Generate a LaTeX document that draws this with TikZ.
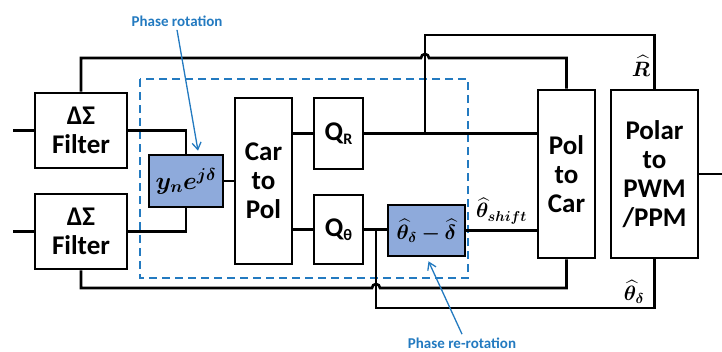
\documentclass[tikz,border=0pt]{standalone}
\usepackage{amsmath, amssymb, bm}
\usepackage{fontspec}
\setmainfont{Carlito}
\usepackage{tikz}
\usetikzlibrary{calc,arrows.meta}
\definecolor{boxblue}{RGB}{142,170,219}
\definecolor{lineblue}{RGB}{35,122,192}

\begin{document}
\begin{tikzpicture}[x=1pt,y=-1pt,
    blk/.style={draw,line width=2.6pt,inner sep=0pt,align=center,
      font=\bfseries\fontsize{27}{29}\selectfont},
    hl/.style={blk,fill=boxblue,font=\fontsize{23}{25}\selectfont},
    wire/.style={line width=2.6pt},
    note/.style={text=lineblue,font=\bfseries\fontsize{15}{16}\selectfont},
    notearrow/.style={draw=lineblue,line width=1.3pt,-{Straight Barb[length=7pt,width=9pt]}}]
      \useasboundingbox (0,0) rectangle (722,351);

      % blocks
      \node[blk,minimum width=92pt,minimum height=75pt] (fltA) at (81,130.5) {ΔΣ\\Filter};
      \node[blk,minimum width=92pt,minimum height=75pt] (fltB) at (81,231.5) {ΔΣ\\Filter};
      \node[hl,minimum width=74pt,minimum height=52pt] (rot) at (186,181) {$\bm{y_{\scriptstyle n} e^{j\delta}}$};
      \node[blk,minimum width=57pt,minimum height=166pt] (c2p) at (263.5,181) {Car\\to\\Pol};
      \node[blk,minimum width=49pt,minimum height=71pt] (qr) at (338.5,133.5) {Q\raisebox{-4pt}{\fontsize{16}{16}\selectfont R}};
      \node[blk,minimum width=49pt,minimum height=69pt] (qt) at (338.5,229.5) {Q\raisebox{-4pt}{\fontsize{16}{16}\selectfont θ}};
      \node[hl,minimum width=77pt,minimum height=51pt,font=\fontsize{20}{22}\selectfont] (rerot) at (426.5,230.5) {$\bm{\widehat{\theta}_{\delta}-\widehat{\delta}}$};
      \node[blk,minimum width=57pt,minimum height=168pt] (p2c) at (566.5,174) {Pol\\to\\Car};
      \node[blk,minimum width=87pt,minimum height=168pt] (pwm) at (654.5,174) {Polar\\to\\PWM\\/PPM};

      % dashed frame
      \draw[lineblue,line width=1.6pt,dash pattern=on 8pt off 5pt] (140,79) rectangle (468,278);

      % free ends and taps
      \coordinate (inA) at (13,130.5);
      \coordinate (inB) at (13,231.5);
      \coordinate (out) at (722,174);
      \coordinate (tapR) at (425,133.5);
      \coordinate (tapT) at (376,229.5);

      \draw[wire] (inA) -- (fltA.west);
      \draw[wire] (inB) -- (fltB.west);
      \draw[wire] (pwm.east) -- (out);
      \draw[wire] (fltA.east) -| (rot.north);
      \draw[wire] (fltB.east) -| (rot.south);
      \draw[wire] (rot.east) -- (c2p.west |- rot.east);
      \draw[wire] (c2p.east |- qr.west) -- (qr.west);
      \draw[wire] (c2p.east |- qt.west) -- (qt.west);
      \draw[wire] (qr.east) -- (p2c.west |- qr.east);
      \draw[wire] (qt.east) -- (rerot.west |- qt.east);
      \draw[wire] (rerot.east) -- (p2c.west |- rerot.east)
        node[midway,above=2pt,font=\fontsize{20}{20}\selectfont] (lblS) {$\bm{\widehat{\theta}_{\scriptstyle shift}}$};

      % feedback of R and theta
      \draw[wire] (tapR) -- (425,35) -| (pwm.north);
      \draw[wire] (tapT) -- (376,308) -| (pwm.south);
      \draw[wire] (fltA.north) |- (421,58) arc (180:0:4pt) -| (p2c.north);
      \draw[wire] (fltB.south) |- (372,288) arc (180:0:4pt) -| (p2c.south);

      \node[font=\fontsize{21}{21}\selectfont] (lblR) at (641,66) {$\bm{\widehat{R}}$};
      \node[font=\fontsize{21}{21}\selectfont] (lblT) at (634,292) {$\bm{\widehat{\theta}_{\delta}}$};

      % notes
      \node[note] (lblRot) at (177,21) {Phase rotation};
      \node[note] (lblRe) at (462,343) {Phase re-rotation};
      \draw[notearrow] (lblRot.south) -- ([xshift=12pt,yshift=3pt]rot.north);
      \draw[notearrow] (lblRe.north) -- ([xshift=2pt,yshift=-4pt]rerot.south);
\end{tikzpicture}
\end{document}
